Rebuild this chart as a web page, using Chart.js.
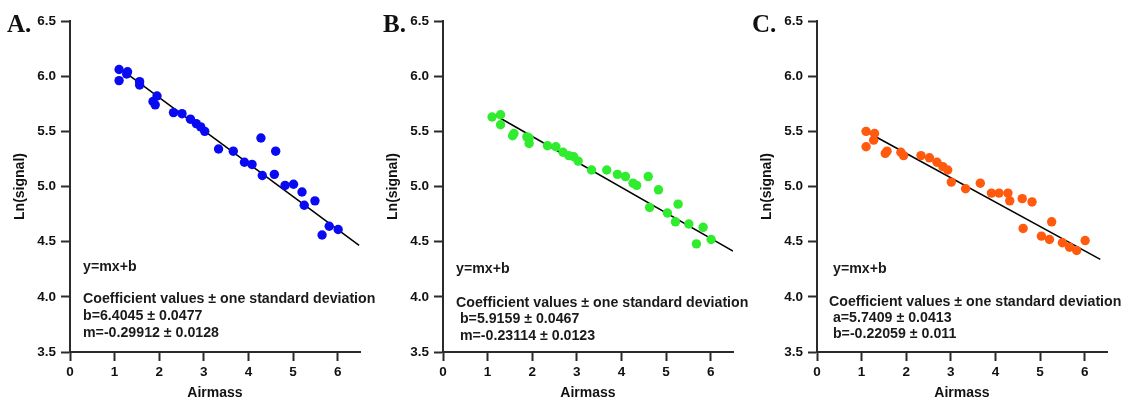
<!DOCTYPE html>
<html>
<head>
<meta charset="utf-8">
<script src="https://cdn.jsdelivr.net/npm/chart.js@4.4.1/dist/chart.umd.min.js"></script>
<style>
  body { margin: 0; background: #fff; width: 1130px; height: 402px; position: relative; overflow: hidden; }
  .panel { position: absolute; top: 0; width: 372px; height: 402px; }
  .letter { position: absolute; font-family: "Liberation Serif", "Times New Roman", serif; font-weight: bold; font-size: 25px; color: #111; line-height: 1; }
  .note { position: absolute; font-family: "Liberation Sans", Arial, sans-serif; font-weight: bold; font-size: 14.2px; color: #1a1a1a; white-space: pre; line-height: 1; transform: translateY(-50%); }
</style>
</head>
<body>
<div class="panel" id="wrapA" style="left:0px"><canvas id="chartA"></canvas></div>
<div class="panel" id="wrapB" style="left:373px"><canvas id="chartB"></canvas></div>
<div class="panel" id="wrapC" style="left:747px"><canvas id="chartC"></canvas></div>

<div class="letter" style="left:7px;top:11px">A.</div>
<div class="letter" style="left:383px;top:11px">B.</div>
<div class="letter" style="left:752px;top:11px">C.</div>

<div class="note" style="left:83px;top:266px">y=mx+b</div>
<div class="note" style="left:83px;top:298px">Coefficient values ± one standard deviation</div>
<div class="note" style="left:83px;top:315px">b=6.4045 ± 0.0477</div>
<div class="note" style="left:83px;top:332px">m=-0.29912 ± 0.0128</div>

<div class="note" style="left:456px;top:268px">y=mx+b</div>
<div class="note" style="left:456px;top:302px">Coefficient values ± one standard deviation</div>
<div class="note" style="left:456px;top:318px"> b=5.9159 ± 0.0467</div>
<div class="note" style="left:456px;top:335px"> m=-0.23114 ± 0.0123</div>

<div class="note" style="left:833px;top:268px">y=mx+b</div>
<div class="note" style="left:829px;top:301px">Coefficient values ± one standard deviation</div>
<div class="note" style="left:829px;top:317px"> a=5.7409 ± 0.0413</div>
<div class="note" style="left:829px;top:333px"> b=-0.22059 ± 0.011</div>

<script>
// airmass / ln(signal)
const airmassA = [1.10, 1.10, 1.29, 1.27, 1.56, 1.56, 1.86, 1.91, 1.95, 2.32, 2.51, 2.70, 2.83, 2.93, 3.02, 3.33, 3.66, 3.91, 4.08, 4.28, 4.31, 4.58, 4.61, 4.82, 5.01, 5.20, 5.25, 5.49, 5.65, 5.81, 6.01];
const signalA  = [6.06, 5.96, 6.04, 6.02, 5.95, 5.92, 5.77, 5.74, 5.82, 5.67, 5.66, 5.61, 5.57, 5.54, 5.50, 5.34, 5.32, 5.22, 5.20, 5.44, 5.10, 5.11, 5.32, 5.01, 5.02, 4.95, 4.83, 4.87, 4.56, 4.64, 4.61];

const airmassB = [1.10, 1.29, 1.29, 1.56, 1.59, 1.88, 1.93, 1.93, 2.34, 2.53, 2.69, 2.82, 2.93, 3.03, 3.33, 3.67, 3.91, 4.09, 4.26, 4.34, 4.60, 4.63, 4.83, 5.03, 5.21, 5.27, 5.51, 5.68, 5.83, 6.01];
const signalB  = [5.63, 5.65, 5.56, 5.46, 5.48, 5.45, 5.39, 5.44, 5.37, 5.36, 5.31, 5.28, 5.27, 5.23, 5.15, 5.15, 5.11, 5.09, 5.03, 5.01, 5.09, 4.81, 4.97, 4.76, 4.68, 4.84, 4.66, 4.48, 4.63, 4.52];

const airmassC = [1.10, 1.10, 1.29, 1.27, 1.53, 1.57, 1.88, 1.94, 2.33, 2.52, 2.69, 2.82, 2.93, 3.01, 3.33, 3.66, 3.91, 4.08, 4.28, 4.32, 4.60, 4.62, 4.82, 5.03, 5.21, 5.26, 5.50, 5.66, 5.82, 6.01];
const signalC  = [5.50, 5.36, 5.48, 5.42, 5.30, 5.32, 5.31, 5.28, 5.28, 5.26, 5.22, 5.18, 5.15, 5.04, 4.98, 5.03, 4.94, 4.94, 4.94, 4.87, 4.89, 4.62, 4.86, 4.55, 4.52, 4.68, 4.49, 4.45, 4.42, 4.51];

// fitted lines: intercept, slope, x range
const fitA = { b: 6.4045, m: -0.29912, from: 1.1, to: 6.48 };
const fitB = { b: 5.9159, m: -0.23114, from: 1.1, to: 6.5 };
const fitC = { b: 5.7409, m: -0.22059, from: 1.1, to: 6.35 };

const xTicks = [0, 1, 2, 3, 4, 5, 6];
const yTicks = [3.5, 4.0, 4.5, 5.0, 5.5, 6.0, 6.5];

const tickFont = { family: "'Liberation Sans', Arial, sans-serif", size: 13.5, weight: 'bold' };
const titleFont = { family: "'Liberation Sans', Arial, sans-serif", size: 14, weight: 'bold' };

function makeChart(id, xs, ys, fit, color) {
    const points = xs.map((x, i) => ({ x: x, y: ys[i] }));
    const line = [fit.from, fit.to].map(x => ({ x: x, y: fit.b + fit.m * x }));
    const axisColor = '#2b2b2b';

    new Chart(document.getElementById(id), {
        type: 'scatter',
        data: {
            datasets: [{
                data: points,
                backgroundColor: color,
                borderWidth: 0,
                pointRadius: 4.7,
                pointHoverRadius: 4.7
            }, {
                type: 'line',
                data: line,
                borderColor: '#000',
                borderWidth: 1.5,
                pointRadius: 0,
                fill: false
            }]
        },
        options: {
            responsive: true,
            maintainAspectRatio: false,
            animation: false,
            layout: { padding: { top: 21, right: 12, left: 0, bottom: 0 } },
            plugins: { legend: { display: false }, tooltip: { enabled: false } },
            scales: {
                x: {
                    type: 'linear',
                    min: 0,
                    max: 6.5,
                    afterBuildTicks: scale => { scale.ticks = xTicks.map(v => ({ value: v })); },
                    afterFit: scale => { scale.height = 50; },
                    ticks: { color: '#111', font: tickFont, padding: 3, maxRotation: 0,
                             callback: v => String(v) },
                    grid: { display: true, drawOnChartArea: false, drawTicks: true, tickLength: 9,
                            tickColor: axisColor, tickWidth: 2 },
                    border: { display: true, color: axisColor, width: 2 },
                    title: { display: true, text: 'Airmass', color: '#111', font: titleFont, padding: { top: 0, bottom: 0 } }
                },
                y: {
                    type: 'linear',
                    min: 3.5,
                    max: 6.5,
                    afterBuildTicks: scale => { scale.ticks = yTicks.map(v => ({ value: v })); },
                    afterFit: scale => { scale.width = 70; },
                    ticks: { color: '#111', font: tickFont, padding: 5,
                             callback: v => v.toFixed(1) },
                    grid: { display: true, drawOnChartArea: false, drawTicks: true, tickLength: 9,
                            tickColor: axisColor, tickWidth: 2 },
                    border: { display: true, color: axisColor, width: 2 },
                    title: { display: true, text: 'Ln(signal)', color: '#111', font: titleFont, padding: { top: 12, bottom: 0 } }
                }
            }
        }
    });
}

makeChart('chartA', airmassA, signalA, fitA, '#0a0af2');
makeChart('chartB', airmassB, signalB, fitB, '#2fec2f');
makeChart('chartC', airmassC, signalC, fitC, '#ff5a0e');
</script>
</body>
</html>
